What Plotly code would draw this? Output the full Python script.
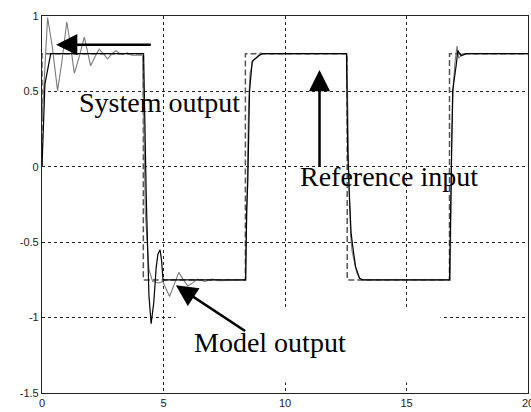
import plotly.graph_objects as go

# Square-wave reference input
ref_t = [0, 0, 4.17, 4.17, 8.37, 8.37, 12.56, 12.56, 16.77, 16.77, 20]
ref_y = [0, 0.75, 0.75, -0.75, -0.75, 0.75, 0.75, -0.75, -0.75, 0.75, 0.75]

# System output (oscillating response)
sys_t = [0, 0.12, 0.23, 0.42, 0.64, 0.82, 1.02, 1.18, 1.33, 1.55, 1.74, 1.88, 2.0,
         2.18, 2.35, 2.52, 2.7, 2.88, 3.04, 3.2, 3.32, 3.5, 3.7, 4.14, 4.25, 4.4,
         4.55, 4.8, 4.97, 5.25, 5.45, 5.63, 5.82, 6.0, 6.2, 6.4, 6.7, 7.0, 7.3, 8.38,
         8.44, 8.5, 8.56, 8.7, 8.8, 9.0, 9.1, 12.55, 12.62, 12.7, 12.76, 12.84, 12.95,
         13.1, 13.2, 16.8, 16.86, 16.93, 17.0, 17.08, 17.15, 17.3, 20]
sys_y = [0.3, 0.7, 0.99, 0.8, 0.505, 0.7, 0.96, 0.8, 0.62, 0.74, 0.86, 0.76, 0.67,
         0.73, 0.78, 0.75, 0.715, 0.75, 0.77, 0.75, 0.745, 0.755, 0.74, 0.74, -0.3, -0.68,
         -0.76, -0.77, -0.76, -0.86, -0.78, -0.70, -0.75, -0.79, -0.77, -0.745, -0.76, -0.745, -0.755, -0.75,
         -0.2, 0.4, 0.62, 0.71, 0.72, 0.755, 0.75, 0.75, 0.0, -0.45, -0.56, -0.62, -0.7,
         -0.755, -0.75, -0.75, 0.2, 0.55, 0.7, 0.8, 0.72, 0.75, 0.75]

# Model output
mod_t = [0, 0.12, 0.36, 4.18, 4.29, 4.4, 4.49, 4.6, 4.7, 4.77, 4.86, 4.92, 4.98,
         8.38, 8.42, 8.47, 8.54, 8.65, 8.95, 9.08, 12.53, 12.58, 12.65, 12.72, 12.79,
         12.9, 13.07, 13.2, 16.77, 16.84, 16.9, 17.05, 17.11, 17.25, 17.46, 20]
mod_y = [0, 0.55, 0.75, 0.75, -0.2, -0.85, -1.04, -0.9, -0.665, -0.58, -0.55, -0.62, -0.75,
         -0.75, -0.3, -0.09, 0.5, 0.70, 0.74, 0.75, 0.75, 0.11, -0.2, -0.44, -0.53,
         -0.66, -0.74, -0.75, -0.75, 0.108, 0.505, 0.68, 0.77, 0.737, 0.75, 0.75]

x_ticks = [0, 5, 10, 15, 20]
y_ticks = [-1.5, -1, -0.5, 0, 0.5, 1]

serif = "Liberation Serif, Times New Roman, serif"

fig = go.Figure()
fig.add_trace(go.Scatter(x=ref_t, y=ref_y, mode="lines",
                         line=dict(color="#555555", width=1.5, dash="6px,3px")))
fig.add_trace(go.Scatter(x=sys_t, y=sys_y, mode="lines",
                         line=dict(color="#7a7a7a", width=1.1)))
fig.add_trace(go.Scatter(x=mod_t, y=mod_y, mode="lines",
                         line=dict(color="#000000", width=1.2)))

# White label panel behind "Model output"
fig.add_shape(type="rect", xref="x", yref="y", x0=5.49, x1=16.4, y0=-1.43, y1=-0.93,
              fillcolor="white", line=dict(width=0), layer="between")

arrow = dict(showarrow=True, arrowhead=2, arrowsize=1.7, arrowwidth=2.5,
             arrowcolor="black", axref="x", ayref="y", text="")
fig.add_annotation(x=0.58, y=0.81, ax=4.54, ay=0.81, **arrow)
fig.add_annotation(x=11.42, y=0.642, ax=11.42, ay=-0.011, **arrow)
fig.add_annotation(x=5.51, y=-0.786, ax=8.42, ay=-1.095, **arrow)

label = dict(showarrow=False, font=dict(family=serif, size=28, color="black"))
fig.add_annotation(x=4.84, y=0.425, text="System output", **label)
fig.add_annotation(x=14.3, y=-0.061, text="Reference input", **label)
fig.add_annotation(x=9.4, y=-1.164, text="Model output", **label)

axis_common = dict(showgrid=True, gridcolor="#222222", gridwidth=1, griddash="3px,3px",
                   zeroline=False, showline=True, linecolor="#222222", linewidth=1.2,
                   mirror=True, ticks="", ticklabeloverflow="allow", automargin=False,
                   tickfont=dict(family="Liberation Sans, Arial", size=11, color="#222222"))
fig.update_xaxes(range=[0, 20], tickvals=x_ticks, ticktext=[str(v) for v in x_ticks], **axis_common)
fig.update_yaxes(range=[-1.5, 1], tickvals=y_ticks, ticktext=["-1.5", "-1", "-0.5", "0", "0.5", "1"], **axis_common)

fig.update_layout(width=531, height=412, margin=dict(l=42, r=3, t=16, b=19),
                  showlegend=False, plot_bgcolor="white", paper_bgcolor="white")
fig.write_html("out.html")
